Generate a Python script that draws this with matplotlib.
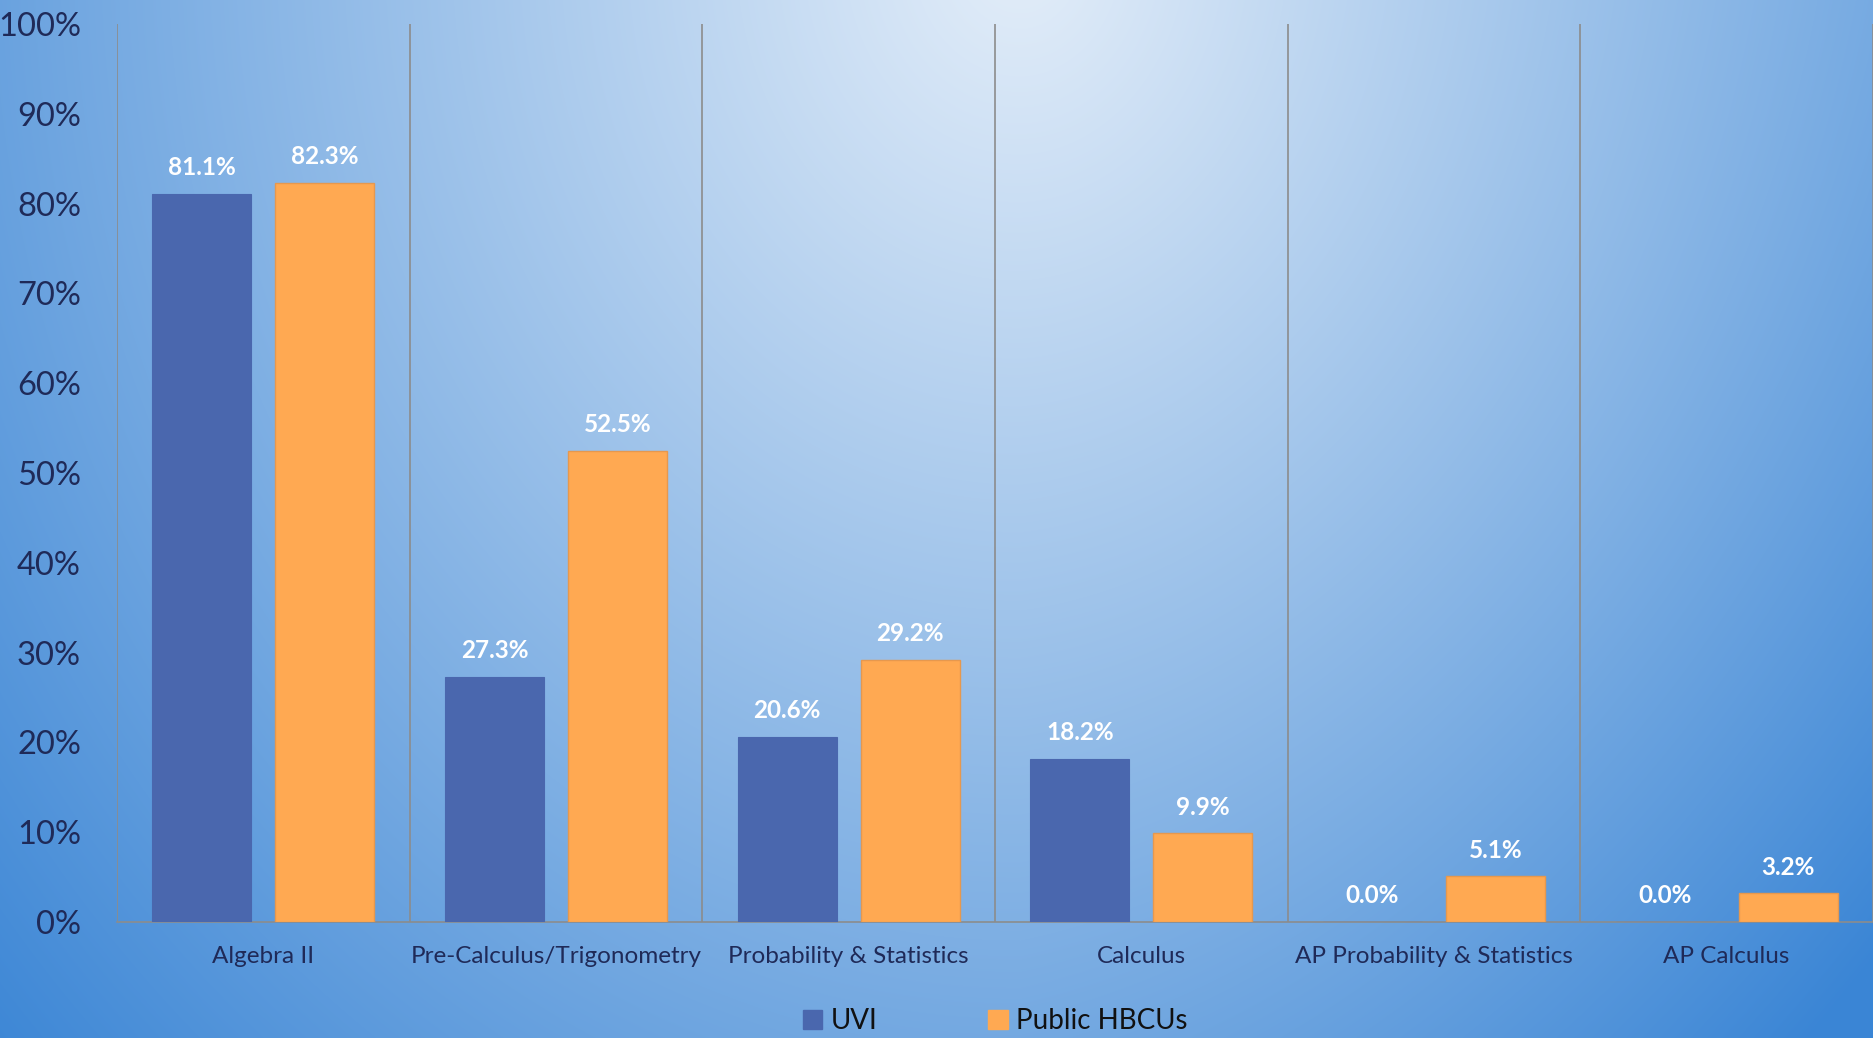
import numpy as np
import matplotlib.pyplot as plt
from matplotlib.patches import Patch

# math course enrollment shares, UVI vs public HBCUs

categories = ["Algebra II", "Pre-Calculus/Trigonometry", "Probability & Statistics",
              "Calculus", "AP Probability & Statistics", "AP Calculus"]
uvi = [81.1, 27.3, 20.6, 18.2, 0.0, 0.0]
hbcu = [82.3, 52.5, 29.2, 9.9, 5.1, 3.2]
series_names = ["UVI", "Public HBCUs"]
yticks = [0, 10, 20, 30, 40, 50, 60, 70, 80, 90, 100]

plt.rcParams['font.family'] = ['Lato', 'DejaVu Sans']

W, H = 1874, 1038
fig = plt.figure(figsize=(W / 100, H / 100), dpi=100)

# background gradient (light spot near top centre, darker blue toward the corners)
yy, xx = np.mgrid[0:H, 0:W].astype(float)
cx, cy = 1020.0, -50.0
ax_x = np.where(xx < cx, 1420.0, 1330.0)
t = np.sqrt(((xx - cx) / ax_x) ** 2 + ((yy - cy) / 1650.0) ** 2)
t = t + 0.12 * (yy / H) * np.clip((xx - cx) / (W - cx), 0, 1)
t = np.clip(t, 0, 1)
light = np.array([228, 238, 249]) / 255
dark = np.array([58, 133, 213]) / 255
img = light[None, None, :] * (1 - t[..., None]) + dark[None, None, :] * t[..., None]
bg = fig.add_axes([0, 0, 1, 1])
bg.imshow(img, aspect='auto', extent=[0, 1, 0, 1], origin='upper')
bg.axis('off')

ax = fig.add_axes([117 / W, 1 - 922 / H, (1873 - 117) / W, (922 - 24) / H])
ax.patch.set_alpha(0)

x = np.arange(len(categories))
off = 0.21
bw = 0.338
b1 = ax.bar(x - off, uvi, bw, color='#4a67ae', edgecolor='#4a67ae', linewidth=0.8, zorder=3)
b2 = ax.bar(x + off, hbcu, bw, color='#ffa952', edgecolor='#e6984e', linewidth=1.0, zorder=3)

for bars, vals in ((b1, uvi), (b2, hbcu)):
    for b, v in zip(bars, vals):
        ax.annotate(f"{v:.1f}%", (b.get_x() + b.get_width() / 2, v),
                    xytext=(0, 10.5), textcoords='offset points',
                    ha='center', va='bottom', color='white',
                    fontsize=17.5, fontweight='bold', zorder=4)

# category separators
for sep in np.arange(-0.5, len(categories)):
    ax.axvline(sep, color='#8c8c8c', linewidth=1.2, zorder=2)

ax.set_xlim(-0.5, len(categories) - 0.5)
ax.set_ylim(0, 100)
ax.set_yticks(yticks)
ax.set_yticklabels([f"{v}%" for v in yticks], fontsize=23.5, color='#1f2a58')
ax.set_xticks(x)
ax.set_xticklabels(categories, fontsize=17.5, color='#1f2a58')
ax.tick_params(axis='y', length=0, pad=26)
ax.tick_params(axis='x', length=0, pad=17)
for s in ['top', 'left', 'right']:
    ax.spines[s].set_visible(False)
ax.spines['bottom'].set_color('#8c8c8c')
ax.spines['bottom'].set_linewidth(1.2)

handles = [Patch(color='#4a67ae'), Patch(color='#ffa952')]
fig.legend(handles, series_names, loc='center', ncol=2,
           bbox_to_anchor=(995 / W, 1 - 1021 / H), frameon=False,
           fontsize=20, handlelength=0.7, handleheight=0.7,
           handletextpad=0.3, columnspacing=4.0, labelcolor='#111111')

fig.savefig('out.png', dpi=100)
